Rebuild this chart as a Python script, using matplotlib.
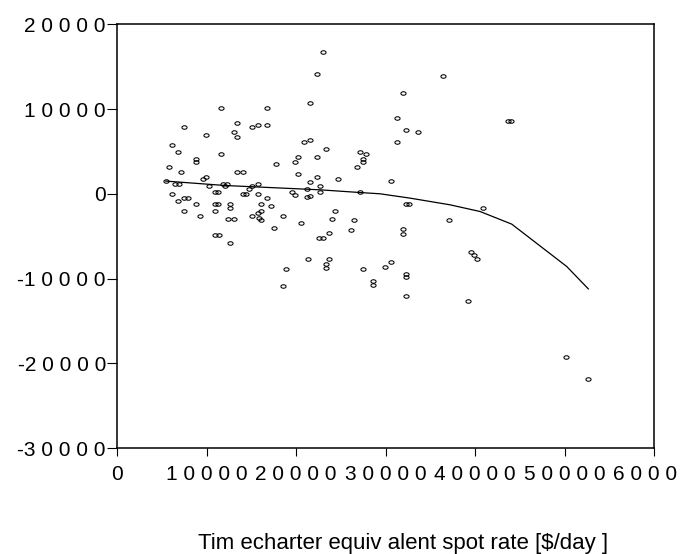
import matplotlib
matplotlib.use('Agg')
import matplotlib.pyplot as plt
from matplotlib.path import Path
from matplotlib.transforms import Affine2D

plt.rcParams['font.family'] = ['Liberation Sans', 'DejaVu Sans']

# scatter: spot rate vs residual (duplicated entries = overlapping markers)
spot_rate = [22970, 22300, 21550, 31940, 31230, 32270, 31230, 11610, 16780, 7480,
             13370, 15040, 15780, 16780, 13030, 13370, 9900, 6140, 20920, 21550,
             23370, 6810, 11610, 8860, 8860, 20250, 19880, 22300, 27140, 27810,
             27500, 27500, 26770, 5770, 17790, 7150, 13370, 14040, 20250, 22300,
             24710, 30600, 9640, 9900, 5440, 6470, 6870, 11830, 12230, 12030,
             10240, 15780, 15040, 14770, 21550, 22640, 21250, 22640, 19540, 27140,
             10940, 11310, 14020, 14420, 6140, 15780, 19880, 21550, 21250, 7510,
             7910, 16780, 6810, 8860, 10930, 11330, 12650, 16080, 32240, 32640,
             12650, 17160, 7520, 10940, 16080, 15780, 24380, 9240, 18510, 15050,
             12340, 13030, 15840, 16040, 24010, 26430, 17500, 20580, 10970, 11370,
             12640, 22610, 23010, 23700, 26100, 31900, 31900, 21300, 23700, 23370,
             23370, 18850, 18510, 27470, 29870, 30600, 28550, 28550, 32310, 32310,
             32310, 36440, 33650, 43610, 44010, 40870, 37070, 39500, 39870, 40230,
             39160, 50170, 52630]
residual = [16760, 14130, 10710, 11840, 8970, 7560, 6100, 10120, 10120, 7830,
            8380, 7830, 8110, 8110, 7240, 6650, 6930, 5780, 6100, 6340,
            5230, 4920, 4690, 3700, 4100, 4400, 3780, 4400, 4880, 4690,
            3730, 4130, 3220, 3220, 3540, 2630, 2630, 2630, 2360, 2040,
            1690, 1500, 1740, 2040, 1500, 1180, 1180, 1150, 1150, 910,
            910, 1180, 910, 590, 1450, 910, 550, 270, 270, 270,
            270, 270, 0, 0, 0, -40, -150, -240, -410, -550,
            -550, -550, -830, -1150, -1150, -1150, -1150, -1150, -1150, -1150,
            -1620, -1440, -1980, -1980, -1980, -2280, -1980, -2600, -2600, -2600,
            -2930, -2930, -2850, -3100, -2930, -3090, -4050, -3420, -4860, -4860,
            -5760, -5160, -5160, -4570, -4250, -4190, -4720, -7710, -7710, -8300,
            -8700, -8880, -10880, -8880, -8640, -8030, -10340, -10740, -9450, -9850,
            -12110, 13900, 7240, 8650, 8650, -1690, -3100, -6880, -7200, -7710,
            -12630, -19280, -21880]

# fitted curve
fit_x = [5440, 12060, 22670, 27140, 29370, 32720, 37190, 40540, 44080, 50220, 52630]
fit_y = [1500, 980, 470, 150, 0, -510, -1300, -2090, -3580, -8580, -11220]

x_ticks = [0, 10000, 20000, 30000, 40000, 50000, 60000]
x_tick_labels = ['0', '1 0 0 0 0', '2 0 0 0 0', '3 0 0 0 0', '4 0 0 0 0',
                 '5 0 0 0 0', '6 0 0 0 0']
y_ticks = [-30000, -20000, -10000, 0, 10000, 20000]
y_tick_labels = ['-3 0 0 0 0', '-2 0 0 0 0', '-1 0 0 0 0', '0', '1 0 0 0 0', '2 0 0 0 0']

fig = plt.figure(figsize=(6.82, 5.54), dpi=100)
ax = fig.add_axes([0.1716, 0.1913, 0.7878, 0.7648])

# small flattened circle as marker
ellipse = Affine2D().scale(1.0, 0.68).transform_path(Path.unit_circle())

ax.plot(fit_x, fit_y, color='black', linewidth=0.9)
ax.plot(spot_rate, residual, linestyle='none', marker=ellipse, markersize=3.7,
        markerfacecolor='none', markeredgecolor='black', markeredgewidth=0.75)

ax.set_xlim(0, 60000)
ax.set_ylim(-30000, 20000)
ax.set_xticks(x_ticks)
ax.set_xticklabels(x_tick_labels)
ax.set_yticks(y_ticks)
ax.set_yticklabels(y_tick_labels)

ax.tick_params(axis='x', length=6, width=0.8, pad=6, labelsize=15)
ax.tick_params(axis='y', length=7, width=0.8, pad=1, labelsize=15)
for s in ax.spines.values():
    s.set_linewidth(1.1)

fig.text(403 / 682, 1 - 549 / 554, 'Tim echarter equiv alent spot rate [$/day ]',
         ha='center', va='baseline', fontsize=16)

plt.savefig('out.png', dpi=100)
plt.close()
